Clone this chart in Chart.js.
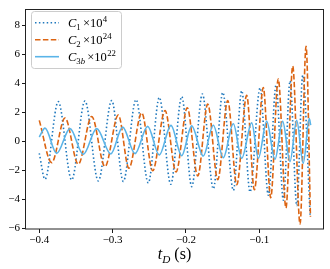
<!DOCTYPE html>
<html><head><meta charset="utf-8">
<script src="https://cdn.jsdelivr.net/npm/chart.js@4.4.1/dist/chart.umd.min.js"></script>
<style>html,body{margin:0;padding:0;background:#fff}canvas{display:block}</style>
</head><body>
<canvas id="c" width="330" height="269"></canvas>
<script>
// ---- data ----
const xTicks = [-0.4, -0.3, -0.2, -0.1];
const yTicks = [-6, -4, -2, 0, 2, 4, 6, 8];
const seriesBase = ['C', 'C', 'C'];
const seriesSub = ['1', '2', '3b'];
const seriesExp = ['4', '24', '22'];
const xTitleMain = 't';
const xTitleSub = 'D';
const xTitleUnit = '(s)';

const c1T = [-0.4, -0.3922, -0.3741, -0.3558, -0.3377, -0.3195, -0.3012, -0.2854, -0.2681, -0.2513, -0.2363, -0.2207, -0.2057, -0.1921, -0.1776, -0.1626, -0.1498, -0.1353, -0.1239, -0.1126, -0.0989, -0.0876, -0.0771, -0.0671, -0.058, -0.0488, -0.0407, -0.0307];
const c1V = [-0.84, -2.62, 2.72, -2.67, 2.77, -2.74, 2.8, -2.77, 2.86, -2.88, 3.01, -2.97, 3.07, -3.13, 3.25, -3.28, 3.35, -3.39, 3.47, -3.5, 3.67, -3.73, 3.86, -4.07, 4.15, -4.45, 4.54, -5.1];

const c2T = [-0.4, -0.3831, -0.3649, -0.3468, -0.3285, -0.3104, -0.2922, -0.2778, -0.2603, -0.2453, -0.2285, -0.2135, -0.1982, -0.1839, -0.1703, -0.1566, -0.143, -0.1307, -0.1171, -0.1067, -0.0945, -0.0844, -0.0741, -0.0636, -0.0544, -0.0444, -0.0362, -0.0302];
const c2V = [1.43, -1.48, 1.6, -1.59, 1.7, -1.75, 1.8, -1.86, 1.95, -2.04, 2.11, -2.12, 2.3, -2.4, 2.56, -2.65, 2.8, -3.0, 3.15, -3.35, 3.69, -3.9, 4.28, -4.6, 5.17, -5.72, 6.53, -5.2];

const c3T = [-0.4, -0.3922, -0.3763, -0.3581, -0.34, -0.3217, -0.3025, -0.2863, -0.2695, -0.2522, -0.2364, -0.2204, -0.2058, -0.1922, -0.1764, -0.1627, -0.1491, -0.1354, -0.124, -0.1103, -0.1013, -0.0899, -0.0786, -0.0681, -0.0581, -0.049, -0.04, -0.0318, -0.0299];
const c3V = [0.29, 0.9, -0.84, 0.86, -0.91, 0.86, -0.88, 0.97, -0.86, 1.02, -0.95, 1.09, -1.0, 1.05, -1.02, 1.1, -1.14, 1.2, -1.18, 1.26, -1.18, 1.36, -1.25, 1.36, -1.41, 1.43, -1.52, 1.55, 1.1];

// ---- styling ----
const FONT = '"Liberation Serif", "Times New Roman", serif';
const colors = ['#1f78bd', '#dc6412', '#5ab4e8'];
const dashes = [[1.5, 2.4], [5.5, 2.4], []];

const pts = (T, V) => T.map((t, i) => ({ x: t, y: V[i] }));
const fmt = v => (Math.abs(v) < 1e-9 ? '0' : String(v)).replace('-', '\u2212');

function drawRich(ctx, x, y, parts, size) {
  for (const p of parts) {
    const s = (p.sub || p.sup) ? size * 0.7 : size;
    ctx.font = (p.it ? 'italic ' : '') + s + 'px ' + FONT;
    const dy = p.sub ? size * 0.25 : (p.sup ? -size * 0.4 : 0);
    x += (p.pre || 0);
    ctx.fillText(p.t, x, y + dy);
    x += ctx.measureText(p.t).width + (p.post || 0);
  }
  return x;
}

function subParts(str) {
  return str.split('').map(ch => ({ t: ch, sub: true, it: /[a-z]/i.test(ch) }));
}

const decor = {
  id: 'decor',
  afterDraw(chart) {
    const ctx = chart.ctx, a = chart.chartArea;
    ctx.save();
    // frame
    ctx.strokeStyle = '#222';
    ctx.lineWidth = 1;
    ctx.strokeRect(Math.round(a.left) - 0.5, Math.round(a.top) + 0.5, Math.round(a.right - a.left) + 1, Math.round(a.bottom - a.top) - 0.5);
    // legend
    const lx = 31.5, ly = 11.5, lw = 90, lh = 57, r = 3;
    ctx.beginPath();
    ctx.moveTo(lx + r, ly);
    ctx.arcTo(lx + lw, ly, lx + lw, ly + lh, r);
    ctx.arcTo(lx + lw, ly + lh, lx, ly + lh, r);
    ctx.arcTo(lx, ly + lh, lx, ly, r);
    ctx.arcTo(lx, ly, lx + lw, ly, r);
    ctx.closePath();
    ctx.fillStyle = 'rgba(255,255,255,0.8)';
    ctx.fill();
    ctx.strokeStyle = '#cccccc';
    ctx.stroke();
    const rows = [22.7, 39.7, 56.7];
    for (let i = 0; i < 3; i++) {
      ctx.beginPath();
      ctx.setLineDash(dashes[i]);
      ctx.strokeStyle = colors[i];
      ctx.lineWidth = 1.6;
      ctx.moveTo(35, rows[i]);
      ctx.lineTo(59, rows[i]);
      ctx.stroke();
      ctx.setLineDash([]);
      ctx.fillStyle = '#000';
      ctx.textBaseline = 'alphabetic';
      ctx.textAlign = 'left';
      const parts = [{ t: seriesBase[i], it: true }].concat(subParts(seriesSub[i]));
      parts.push({ t: '\u00d710', pre: 2.2 });
      parts.push({ t: seriesExp[i], sup: true, pre: 0.3 });
      drawRich(ctx, 68, rows[i] + 4, parts, 12.5);
    }
    // x title
    ctx.fillStyle = '#000';
    const size = 16;
    const tparts = [{ t: xTitleMain, it: true }, { t: xTitleSub, sub: true, it: true, post: 4 }, { t: xTitleUnit }];
    ctx.font = 'italic ' + size + 'px ' + FONT;
    let w = 0;
    for (const p of tparts) {
      const s = p.sub ? size * 0.7 : size;
      ctx.font = (p.it ? 'italic ' : '') + s + 'px ' + FONT;
      w += ctx.measureText(p.t).width + (p.post || 0);
    }
    const cx = (a.left + a.right) / 2;
    drawRich(ctx, cx - w / 2, 258.5, tparts, size);
    ctx.restore();
  }
};

const tickFont = { family: FONT, size: 11 };

new Chart(document.getElementById('c'), {
  type: 'line',
  data: {
    datasets: [
      { data: pts(c1T, c1V), borderColor: colors[0], borderWidth: 1.6, borderDash: dashes[0], order: 2 },
      { data: pts(c2T, c2V), borderColor: colors[1], borderWidth: 1.6, borderDash: dashes[1], order: 1 },
      { data: pts(c3T, c3V), borderColor: colors[2], borderWidth: 1.6, borderDash: dashes[2], order: 0 }
    ].map(d => Object.assign(d, { pointRadius: 0, fill: false, cubicInterpolationMode: 'monotone', borderCapStyle: 'butt' }))
  },
  options: {
    responsive: false,
    animation: false,
    devicePixelRatio: 1,
    layout: { padding: { left: 0, right: 7, top: 5, bottom: 0 } },
    plugins: { legend: { display: false }, tooltip: { enabled: false } },
    scales: {
      x: {
        type: 'linear', min: -0.4181, max: -0.0131,
        afterBuildTicks: s => { s.ticks = xTicks.map(v => ({ value: v })); },
        afterFit: s => { s.height = 40; },
        grid: { drawOnChartArea: false, drawTicks: true, tickLength: 4, color: '#000', lineWidth: 0.9 },
        border: { display: false },
        ticks: { font: tickFont, color: '#000', padding: 1, maxRotation: 0, autoSkip: false, callback: v => fmt(Number(v.toFixed(1))) }
      },
      y: {
        type: 'linear', min: -6.05, max: 9.13,
        afterBuildTicks: s => { s.ticks = yTicks.map(v => ({ value: v })); },
        afterFit: s => { s.width = 26; },
        grid: { drawOnChartArea: false, drawTicks: true, tickLength: 4, color: '#000', lineWidth: 0.9 },
        border: { display: false },
        ticks: { font: tickFont, color: '#000', padding: 2, autoSkip: false, callback: v => fmt(v) }
      }
    }
  },
  plugins: [decor]
});
</script>
</body></html>
